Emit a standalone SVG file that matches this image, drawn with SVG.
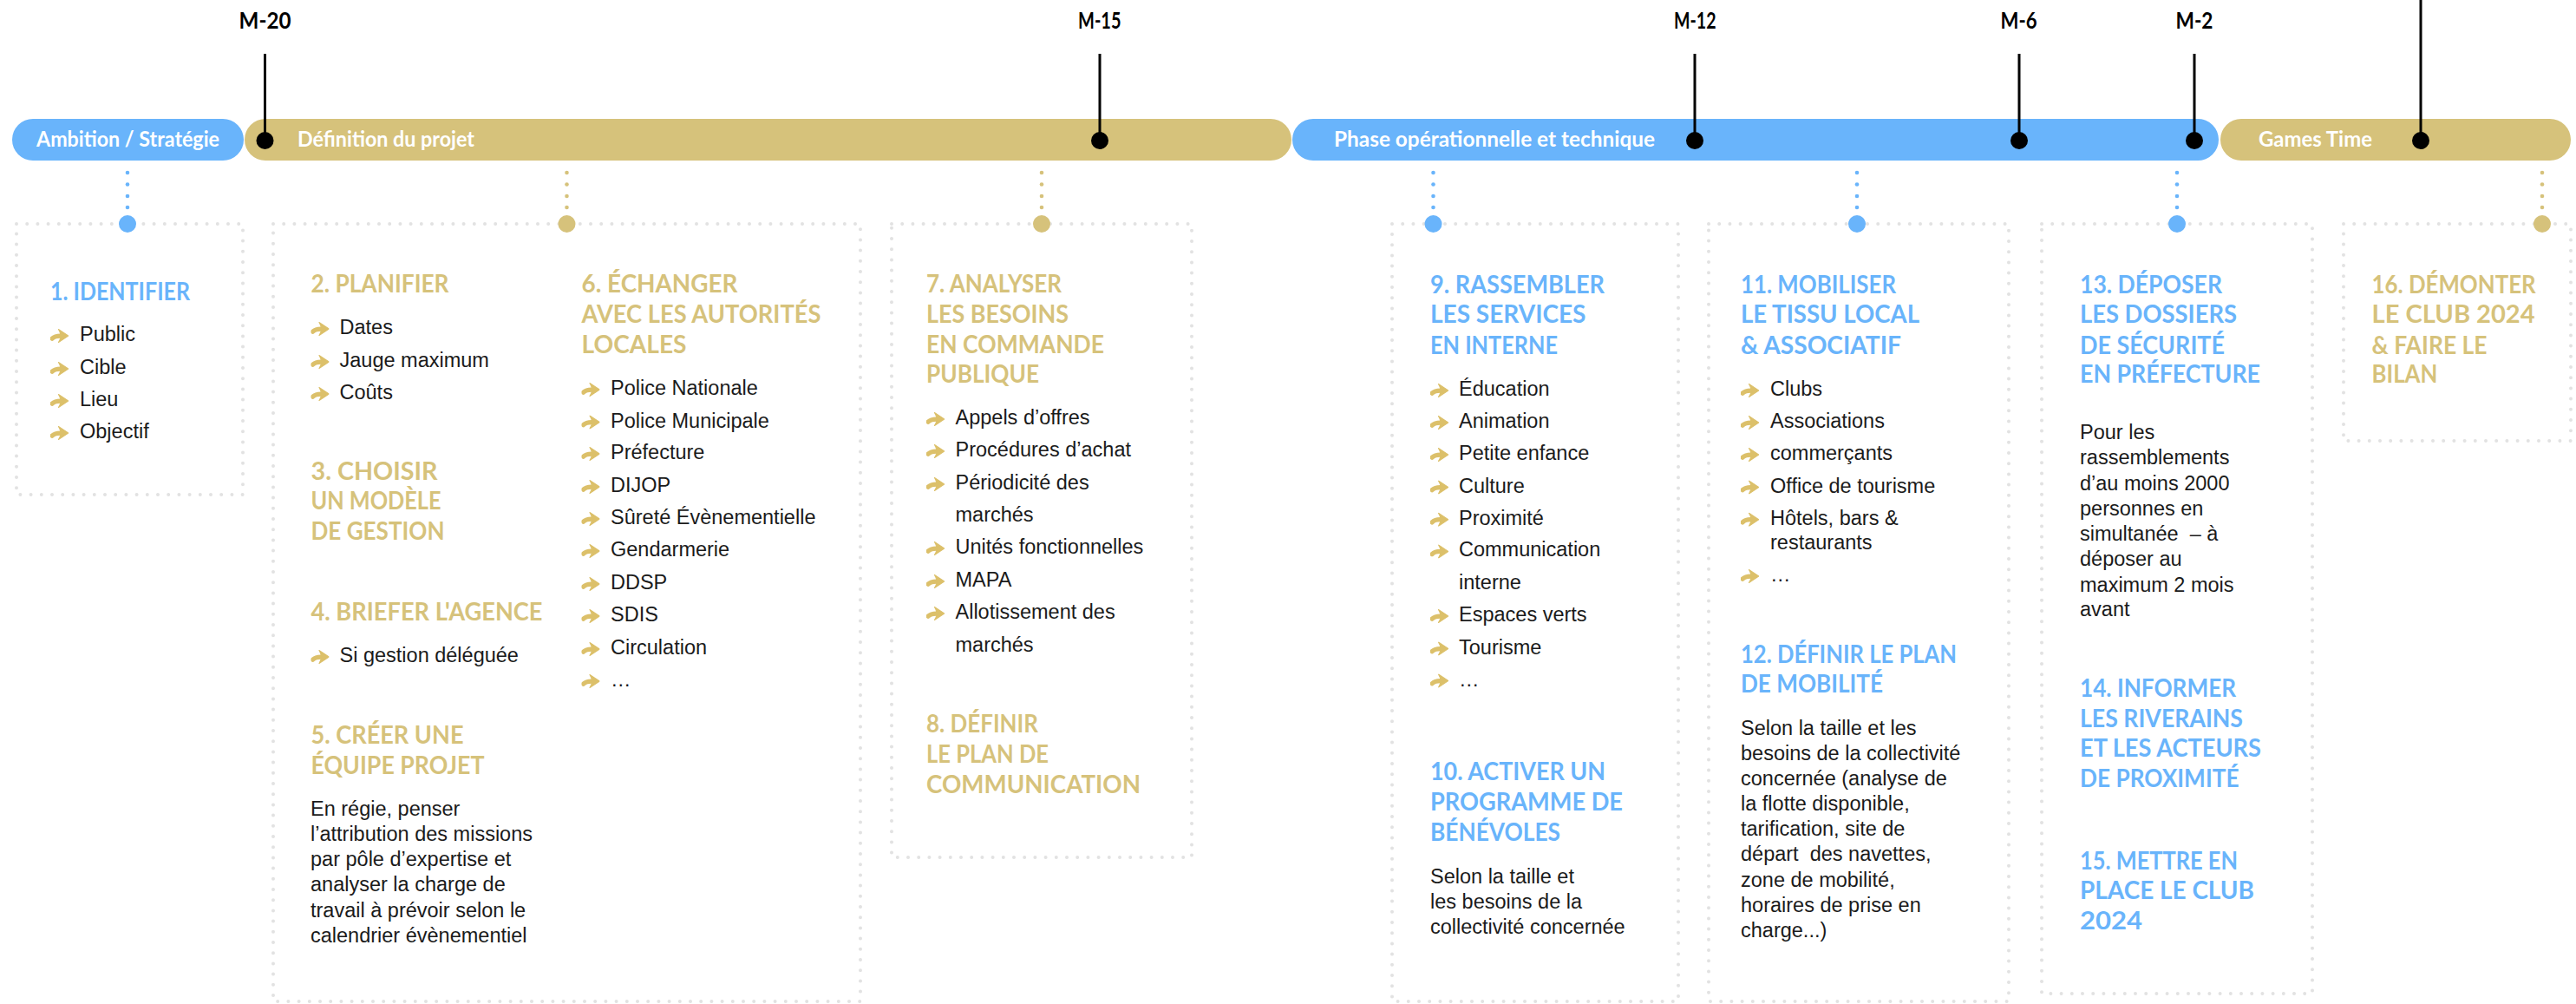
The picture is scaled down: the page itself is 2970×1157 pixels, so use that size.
<svg xmlns="http://www.w3.org/2000/svg" xmlns:xlink="http://www.w3.org/1999/xlink" width="2970" height="1157" viewBox="0 0 2970 1157">
<style>
.hd{font-family:Lato,"Liberation Sans",sans-serif;font-weight:700;font-size:28px}
.b{fill:#69b4fb}
.g{fill:#d6c27b}
.bd{font-family:"Liberation Sans",Arial,sans-serif;font-size:23.5px;fill:#1b1b1b;white-space:pre}
.ms{font-family:Lato,"Liberation Sans",sans-serif;font-weight:700;font-size:27px;fill:#000}
.pt{font-family:Lato,"Liberation Sans",sans-serif;font-weight:700;font-size:25px;fill:#fff}
.box{fill:none;stroke:#e2e2e2;stroke-width:4;stroke-linecap:round;stroke-dasharray:0 12.2}
.tick{stroke:#000;stroke-width:3}
.cb{fill:#69b4fb}.cg{fill:#d6c27b}
</style>
<defs>
<symbol id="arr" viewBox="0 0 20 15" width="21" height="16">
<path d="M2,10.5 Q5,7.5 11,7.5" fill="none" stroke="#dcc06a" stroke-width="5" stroke-linecap="round"/>
<path d="M9,0.3 L19.8,7.5 L9,14.7 Q11.8,10 11.3,7.5 Q11.8,5 9,0.3 Z" fill="#dcc06a" stroke="#dcc06a" stroke-width="1" stroke-linejoin="round"/>
</symbol>
</defs>
<rect width="2970" height="1157" fill="#fff"/>

<g id="phases">
<g id="phase-ambition"><rect x="14" y="137" width="267" height="48" rx="24" fill="#69b4fb"/><text class="pt" x="42" y="169" textLength="211" lengthAdjust="spacingAndGlyphs">Ambition / Stratégie</text></g>
<g id="phase-definition"><rect x="282" y="137" width="1207" height="48" rx="24" fill="#d6c27b"/><text class="pt" x="343" y="169" textLength="204" lengthAdjust="spacingAndGlyphs">Définition du projet</text></g>
<g id="phase-operationnelle"><rect x="1490" y="137" width="1068" height="48" rx="24" fill="#69b4fb"/><text class="pt" x="1538" y="169" textLength="370" lengthAdjust="spacingAndGlyphs">Phase opérationnelle et technique</text></g>
<g id="phase-games"><rect x="2560" y="137" width="404" height="48" rx="24" fill="#d6c27b"/><text class="pt" x="2604" y="169" textLength="131" lengthAdjust="spacingAndGlyphs">Games Time</text></g>
</g>

<g id="milestones">
<text class="ms" x="275.5" y="33" textLength="60" lengthAdjust="spacingAndGlyphs">M-20</text>
<text class="ms" x="1243" y="33" textLength="49.5" lengthAdjust="spacingAndGlyphs">M-15</text>
<text class="ms" x="1930" y="33" textLength="48.5" lengthAdjust="spacingAndGlyphs">M-12</text>
<text class="ms" x="2306.6" y="33" textLength="42" lengthAdjust="spacingAndGlyphs">M-6</text>
<text class="ms" x="2508.5" y="33" textLength="43" lengthAdjust="spacingAndGlyphs">M-2</text>
</g>

<g id="connectors">
<line class="tick" x1="305.5" y1="62" x2="305.5" y2="162"/><circle cx="305.5" cy="162" r="10"/>
<line class="tick" x1="1268" y1="62" x2="1268" y2="162"/><circle cx="1268" cy="162" r="10"/>
<line class="tick" x1="1954" y1="62" x2="1954" y2="162"/><circle cx="1954" cy="162" r="10"/>
<line class="tick" x1="2328" y1="62" x2="2328" y2="162"/><circle cx="2328" cy="162" r="10"/>
<line class="tick" x1="2530" y1="62" x2="2530" y2="162"/><circle cx="2530" cy="162" r="10"/>
<line class="tick" x1="2791" y1="0" x2="2791" y2="162"/><circle cx="2791" cy="162" r="10"/>
<g class="cb"><circle cx="147" cy="199" r="2.3"/><circle cx="147" cy="212.5" r="2.3"/><circle cx="147" cy="226" r="2.3"/><circle cx="147" cy="239" r="2.3"/></g>
<g class="cg"><circle cx="653.5" cy="199" r="2.3"/><circle cx="653.5" cy="212.5" r="2.3"/><circle cx="653.5" cy="226" r="2.3"/><circle cx="653.5" cy="239" r="2.3"/></g>
<g class="cg"><circle cx="1201" cy="199" r="2.3"/><circle cx="1201" cy="212.5" r="2.3"/><circle cx="1201" cy="226" r="2.3"/><circle cx="1201" cy="239" r="2.3"/></g>
<g class="cb"><circle cx="1652.5" cy="199" r="2.3"/><circle cx="1652.5" cy="212.5" r="2.3"/><circle cx="1652.5" cy="226" r="2.3"/><circle cx="1652.5" cy="239" r="2.3"/></g>
<g class="cb"><circle cx="2141" cy="199" r="2.3"/><circle cx="2141" cy="212.5" r="2.3"/><circle cx="2141" cy="226" r="2.3"/><circle cx="2141" cy="239" r="2.3"/></g>
<g class="cb"><circle cx="2510" cy="199" r="2.3"/><circle cx="2510" cy="212.5" r="2.3"/><circle cx="2510" cy="226" r="2.3"/><circle cx="2510" cy="239" r="2.3"/></g>
<g class="cg"><circle cx="2931" cy="199" r="2.3"/><circle cx="2931" cy="212.5" r="2.3"/><circle cx="2931" cy="226" r="2.3"/><circle cx="2931" cy="239" r="2.3"/></g>
</g>

<g id="node-1">
<rect class="box" x="19" y="258" width="261" height="312"/>
<circle class="cb" cx="147" cy="258" r="10"/>
<text class="hd b" x="58" y="346" textLength="161" lengthAdjust="spacingAndGlyphs">1. IDENTIFIER</text>
<use href="#arr" x="58" y="379"/><text class="bd" x="92" y="393">Public</text>
<use href="#arr" x="58" y="417"/><text class="bd" x="92" y="431">Cible</text>
<use href="#arr" x="58" y="454"/><text class="bd" x="92" y="468">Lieu</text>
<use href="#arr" x="58" y="491"/><text class="bd" x="92" y="505">Objectif</text>
</g>

<g id="node-2">
<rect class="box" x="315" y="258" width="677" height="896"/>
<circle class="cg" cx="653.5" cy="258" r="10"/>
<g id="step-2">
<text class="hd g" x="358.5" y="337" textLength="159" lengthAdjust="spacingAndGlyphs">2. PLANIFIER</text>
<use href="#arr" x="358.5" y="371"/><text class="bd" x="391.5" y="385">Dates</text>
<use href="#arr" x="358.5" y="409"/><text class="bd" x="391.5" y="423">Jauge maximum</text>
<use href="#arr" x="358.5" y="446"/><text class="bd" x="391.5" y="460">Coûts</text>
</g>
<g id="step-3">
<text class="hd g" x="358.5" y="553" textLength="146" lengthAdjust="spacingAndGlyphs">3. CHOISIR</text>
<text class="hd g" x="358.5" y="587" textLength="150" lengthAdjust="spacingAndGlyphs">UN MODÈLE</text>
<text class="hd g" x="358.5" y="622" textLength="154" lengthAdjust="spacingAndGlyphs">DE GESTION</text>
</g>
<g id="step-4">
<text class="hd g" x="358.5" y="715" textLength="267" lengthAdjust="spacingAndGlyphs">4. BRIEFER L'AGENCE</text>
<use href="#arr" x="358.5" y="749"/><text class="bd" x="391.5" y="763">Si gestion déléguée</text>
</g>
<g id="step-5">
<text class="hd g" x="358.5" y="857" textLength="176" lengthAdjust="spacingAndGlyphs">5. CRÉER UNE</text>
<text class="hd g" x="358.5" y="892" textLength="200" lengthAdjust="spacingAndGlyphs">ÉQUIPE PROJET</text>
<text class="bd" x="358" y="940">En régie, penser</text>
<text class="bd" x="358" y="969">l’attribution des missions</text>
<text class="bd" x="358" y="998">par pôle d’expertise et</text>
<text class="bd" x="358" y="1027">analyser la charge de</text>
<text class="bd" x="358" y="1057">travail à prévoir selon le</text>
<text class="bd" x="358" y="1086">calendrier évènementiel</text>
</g>
<g id="step-6">
<text class="hd g" x="670.5" y="337" textLength="180" lengthAdjust="spacingAndGlyphs">6. ÉCHANGER</text>
<text class="hd g" x="670.5" y="372" textLength="276" lengthAdjust="spacingAndGlyphs">AVEC LES AUTORITÉS</text>
<text class="hd g" x="670.5" y="407" textLength="121" lengthAdjust="spacingAndGlyphs">LOCALES</text>
<use href="#arr" x="670.5" y="441"/><text class="bd" x="704" y="455">Police Nationale</text>
<use href="#arr" x="670.5" y="478.5"/><text class="bd" x="704" y="492.5">Police Municipale</text>
<use href="#arr" x="670.5" y="515"/><text class="bd" x="704" y="529">Préfecture</text>
<use href="#arr" x="670.5" y="553"/><text class="bd" x="704" y="567">DIJOP</text>
<use href="#arr" x="670.5" y="590"/><text class="bd" x="704" y="604">Sûreté Évènementielle</text>
<use href="#arr" x="670.5" y="627"/><text class="bd" x="704" y="641">Gendarmerie</text>
<use href="#arr" x="670.5" y="665"/><text class="bd" x="704" y="679">DDSP</text>
<use href="#arr" x="670.5" y="702"/><text class="bd" x="704" y="716">SDIS</text>
<use href="#arr" x="670.5" y="740"/><text class="bd" x="704" y="754">Circulation</text>
<use href="#arr" x="670.5" y="777"/><text class="bd" x="704" y="791">…</text>
</g>
</g>

<g id="node-3">
<rect class="box" x="1028" y="258" width="346" height="730"/>
<circle class="cg" cx="1201" cy="258" r="10"/>
<g id="step-7">
<text class="hd g" x="1068" y="337" textLength="156" lengthAdjust="spacingAndGlyphs">7. ANALYSER</text>
<text class="hd g" x="1068" y="372" textLength="164" lengthAdjust="spacingAndGlyphs">LES BESOINS</text>
<text class="hd g" x="1068" y="407" textLength="205" lengthAdjust="spacingAndGlyphs">EN COMMANDE</text>
<text class="hd g" x="1068" y="441" textLength="130" lengthAdjust="spacingAndGlyphs">PUBLIQUE</text>
<use href="#arr" x="1068" y="475"/><text class="bd" x="1101.5" y="489">Appels d’offres</text>
<use href="#arr" x="1068" y="512"/><text class="bd" x="1101.5" y="526">Procédures d’achat</text>
<use href="#arr" x="1068" y="550"/><text class="bd" x="1101.5" y="564">Périodicité des</text>
<text class="bd" x="1101.5" y="601">marchés</text>
<use href="#arr" x="1068" y="624"/><text class="bd" x="1101.5" y="638">Unités fonctionnelles</text>
<use href="#arr" x="1068" y="662"/><text class="bd" x="1101.5" y="676">MAPA</text>
<use href="#arr" x="1068" y="699"/><text class="bd" x="1101.5" y="713">Allotissement des</text>
<text class="bd" x="1101.5" y="751">marchés</text>
</g>
<g id="step-8">
<text class="hd g" x="1068" y="844" textLength="129" lengthAdjust="spacingAndGlyphs">8. DÉFINIR</text>
<text class="hd g" x="1068" y="879" textLength="141" lengthAdjust="spacingAndGlyphs">LE PLAN DE</text>
<text class="hd g" x="1068" y="914" textLength="247" lengthAdjust="spacingAndGlyphs">COMMUNICATION</text>
</g>
</g>

<g id="node-4">
<rect class="box" x="1605" y="258" width="330" height="896"/>
<circle class="cb" cx="1652.5" cy="258" r="10"/>
<g id="step-9">
<text class="hd b" x="1649" y="338" textLength="201" lengthAdjust="spacingAndGlyphs">9. RASSEMBLER</text>
<text class="hd b" x="1649" y="372" textLength="179.5" lengthAdjust="spacingAndGlyphs">LES SERVICES</text>
<text class="hd b" x="1649" y="407.6" textLength="147" lengthAdjust="spacingAndGlyphs">EN INTERNE</text>
<use href="#arr" x="1649" y="442"/><text class="bd" x="1682" y="456">Éducation</text>
<use href="#arr" x="1649" y="479"/><text class="bd" x="1682" y="493">Animation</text>
<use href="#arr" x="1649" y="516"/><text class="bd" x="1682" y="530">Petite enfance</text>
<use href="#arr" x="1649" y="553.5"/><text class="bd" x="1682" y="567.5">Culture</text>
<use href="#arr" x="1649" y="590.7"/><text class="bd" x="1682" y="604.7">Proximité</text>
<use href="#arr" x="1649" y="627.4"/><text class="bd" x="1682" y="641.4">Communication</text>
<text class="bd" x="1682" y="678.5">interne</text>
<use href="#arr" x="1649" y="702"/><text class="bd" x="1682" y="716">Espaces verts</text>
<use href="#arr" x="1649" y="739.5"/><text class="bd" x="1682" y="753.5">Tourisme</text>
<use href="#arr" x="1649" y="776.6"/><text class="bd" x="1682" y="790.6">…</text>
</g>
<g id="step-10">
<text class="hd b" x="1649" y="899" textLength="202" lengthAdjust="spacingAndGlyphs">10. ACTIVER UN</text>
<text class="hd b" x="1649" y="934" textLength="222" lengthAdjust="spacingAndGlyphs">PROGRAMME DE</text>
<text class="hd b" x="1649" y="969" textLength="150" lengthAdjust="spacingAndGlyphs">BÉNÉVOLES</text>
<text class="bd" x="1649" y="1017.7">Selon la taille et</text>
<text class="bd" x="1649" y="1046.7">les besoins de la</text>
<text class="bd" x="1649" y="1075.7">collectivité concernée</text>
</g>
</g>

<g id="node-5">
<rect class="box" x="1970" y="258" width="346" height="896"/>
<circle class="cb" cx="2141" cy="258" r="10"/>
<g id="step-11">
<text class="hd b" x="2007" y="338" textLength="179" lengthAdjust="spacingAndGlyphs">11. MOBILISER</text>
<text class="hd b" x="2007" y="372" textLength="206" lengthAdjust="spacingAndGlyphs">LE TISSU LOCAL</text>
<text class="hd b" x="2007" y="407.6" textLength="185" lengthAdjust="spacingAndGlyphs">&amp; ASSOCIATIF</text>
<use href="#arr" x="2007" y="442"/><text class="bd" x="2041" y="456">Clubs</text>
<use href="#arr" x="2007" y="479"/><text class="bd" x="2041" y="493">Associations</text>
<use href="#arr" x="2007" y="516"/><text class="bd" x="2041" y="530">commerçants</text>
<use href="#arr" x="2007" y="553.5"/><text class="bd" x="2041" y="567.5">Office de tourisme</text>
<use href="#arr" x="2007" y="590.7"/><text class="bd" x="2041" y="604.7">Hôtels, bars &amp;</text>
<text class="bd" x="2041" y="632.6">restaurants</text>
<use href="#arr" x="2007" y="656"/><text class="bd" x="2041" y="670">…</text>
</g>
<g id="step-12">
<text class="hd b" x="2007" y="764" textLength="249" lengthAdjust="spacingAndGlyphs">12. DÉFINIR LE PLAN</text>
<text class="hd b" x="2007" y="798" textLength="164" lengthAdjust="spacingAndGlyphs">DE MOBILITÉ</text>
<text class="bd" x="2007" y="846.7">Selon la taille et les</text>
<text class="bd" x="2007" y="875.7">besoins de la collectivité</text>
<text class="bd" x="2007" y="905">concernée (analyse de</text>
<text class="bd" x="2007" y="934">la flotte disponible,</text>
<text class="bd" x="2007" y="963">tarification, site de</text>
<text class="bd" x="2007" y="992">départ  des navettes,</text>
<text class="bd" x="2007" y="1021.7">zone de mobilité,</text>
<text class="bd" x="2007" y="1050.7">horaires de prise en</text>
<text class="bd" x="2007" y="1080">charge...)</text>
</g>
</g>

<g id="node-6">
<rect class="box" x="2354" y="258" width="312" height="887"/>
<circle class="cb" cx="2510" cy="258" r="10"/>
<g id="step-13">
<text class="hd b" x="2398" y="338" textLength="164" lengthAdjust="spacingAndGlyphs">13. DÉPOSER</text>
<text class="hd b" x="2398" y="372" textLength="181" lengthAdjust="spacingAndGlyphs">LES DOSSIERS</text>
<text class="hd b" x="2398" y="407.6" textLength="167" lengthAdjust="spacingAndGlyphs">DE SÉCURITÉ</text>
<text class="hd b" x="2398" y="441" textLength="208" lengthAdjust="spacingAndGlyphs">EN PRÉFECTURE</text>
<text class="bd" x="2398" y="505.5">Pour les</text>
<text class="bd" x="2398" y="535.4">rassemblements</text>
<text class="bd" x="2398" y="565">d’au moins 2000</text>
<text class="bd" x="2398" y="593.6">personnes en</text>
<text class="bd" x="2398" y="623">simultanée  – à</text>
<text class="bd" x="2398" y="652">déposer au</text>
<text class="bd" x="2398" y="681.6">maximum 2 mois</text>
<text class="bd" x="2398" y="710.3">avant</text>
</g>
<g id="step-14">
<text class="hd b" x="2398" y="803" textLength="180" lengthAdjust="spacingAndGlyphs">14. INFORMER</text>
<text class="hd b" x="2398" y="838" textLength="188" lengthAdjust="spacingAndGlyphs">LES RIVERAINS</text>
<text class="hd b" x="2398" y="872" textLength="209" lengthAdjust="spacingAndGlyphs">ET LES ACTEURS</text>
<text class="hd b" x="2398" y="907" textLength="183.5" lengthAdjust="spacingAndGlyphs">DE PROXIMITÉ</text>
</g>
<g id="step-15">
<text class="hd b" x="2398" y="1001.7" textLength="182" lengthAdjust="spacingAndGlyphs">15. METTRE EN</text>
<text class="hd b" x="2398" y="1036" textLength="201" lengthAdjust="spacingAndGlyphs">PLACE LE CLUB</text>
<text class="hd b" x="2398" y="1070.7" textLength="72" lengthAdjust="spacingAndGlyphs">2024</text>
</g>
</g>

<g id="node-7">
<rect class="box" x="2702" y="258" width="262" height="250"/>
<circle class="cg" cx="2931" cy="258" r="10"/>
<text class="hd g" x="2734.6" y="338" textLength="189" lengthAdjust="spacingAndGlyphs">16. DÉMONTER</text>
<text class="hd g" x="2734.6" y="372" textLength="188" lengthAdjust="spacingAndGlyphs">LE CLUB 2024</text>
<text class="hd g" x="2734.6" y="407.6" textLength="133" lengthAdjust="spacingAndGlyphs">&amp; FAIRE LE</text>
<text class="hd g" x="2734.6" y="441" textLength="75.7" lengthAdjust="spacingAndGlyphs">BILAN</text>
</g>
</svg>
